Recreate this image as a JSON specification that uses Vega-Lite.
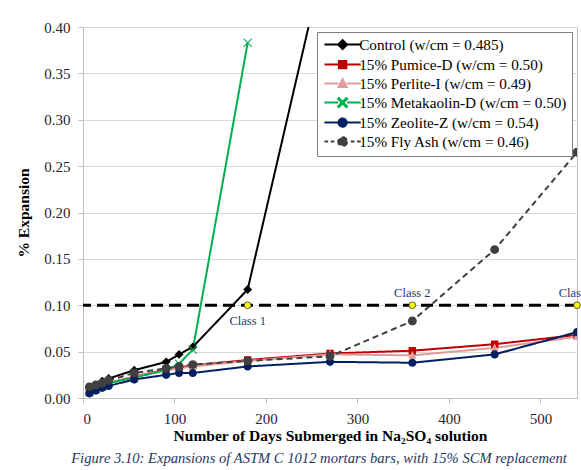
{
  "$schema": "https://vega.github.io/schema/vega-lite/v6.json",
  "width": 494,
  "height": 371,
  "autosize": "none",
  "padding": {"left": 83, "top": 27, "right": 4, "bottom": 72},
  "background": "white",
  "config": {
    "font": "Liberation Serif",
    "view": {"stroke": "#BFBFBF"},
    "axis": {
      "labelFont": "Liberation Serif", "labelFontSize": 15, "labelColor": "#262626",
      "titleFont": "Liberation Serif", "titleFontSize": 15.5, "titleFontWeight": "bold", "titleColor": "black",
      "domainColor": "#BFBFBF", "tickColor": "#BFBFBF", "tickSize": 5, "gridColor": "#D9D9D9"
    },
    "legend": {
      "orient": "top-right", "offset": 5, "fillColor": "white", "strokeColor": "#808080", "padding": 5,
      "labelFont": "Liberation Serif", "labelFontSize": 15.2, "labelColor": "black",
      "symbolSize": 55, "symbolOffset": 13, "labelOffset": 9, "rowPadding": 2, "labelLimit": 300,
      "symbolStrokeWidth": 2
    }
  },
  "title": {
    "text": "Figure 3.10: Expansions of ASTM C 1012 mortars bars, with 15% SCM replacement",
    "orient": "bottom", "anchor": "middle", "font": "Liberation Serif", "fontSize": 14.6,
    "fontStyle": "italic", "fontWeight": "normal", "color": "#1F3864", "offset": 7, "dx": -11
  },
  "datasets": {
    "series": [
      {"series": "Control (w/cm = 0.485)", "day": 7, "exp": 0.011},
      {"series": "Control (w/cm = 0.485)", "day": 14, "exp": 0.014},
      {"series": "Control (w/cm = 0.485)", "day": 21, "exp": 0.018},
      {"series": "Control (w/cm = 0.485)", "day": 28, "exp": 0.021},
      {"series": "Control (w/cm = 0.485)", "day": 56, "exp": 0.030},
      {"series": "Control (w/cm = 0.485)", "day": 91, "exp": 0.039},
      {"series": "Control (w/cm = 0.485)", "day": 105, "exp": 0.047},
      {"series": "Control (w/cm = 0.485)", "day": 120, "exp": 0.055},
      {"series": "Control (w/cm = 0.485)", "day": 180, "exp": 0.117},
      {"series": "Control (w/cm = 0.485)", "day": 270, "exp": 0.50},
      {"series": "15% Pumice-D (w/cm = 0.50)", "day": 7, "exp": 0.006},
      {"series": "15% Pumice-D (w/cm = 0.50)", "day": 14, "exp": 0.009},
      {"series": "15% Pumice-D (w/cm = 0.50)", "day": 21, "exp": 0.012},
      {"series": "15% Pumice-D (w/cm = 0.50)", "day": 28, "exp": 0.016},
      {"series": "15% Pumice-D (w/cm = 0.50)", "day": 56, "exp": 0.023},
      {"series": "15% Pumice-D (w/cm = 0.50)", "day": 91, "exp": 0.031},
      {"series": "15% Pumice-D (w/cm = 0.50)", "day": 105, "exp": 0.033},
      {"series": "15% Pumice-D (w/cm = 0.50)", "day": 120, "exp": 0.035},
      {"series": "15% Pumice-D (w/cm = 0.50)", "day": 180, "exp": 0.041},
      {"series": "15% Pumice-D (w/cm = 0.50)", "day": 270, "exp": 0.048},
      {"series": "15% Pumice-D (w/cm = 0.50)", "day": 360, "exp": 0.051},
      {"series": "15% Pumice-D (w/cm = 0.50)", "day": 450, "exp": 0.058},
      {"series": "15% Pumice-D (w/cm = 0.50)", "day": 540, "exp": 0.068},
      {"series": "15% Perlite-I (w/cm = 0.49)", "day": 7, "exp": 0.007},
      {"series": "15% Perlite-I (w/cm = 0.49)", "day": 14, "exp": 0.010},
      {"series": "15% Perlite-I (w/cm = 0.49)", "day": 21, "exp": 0.013},
      {"series": "15% Perlite-I (w/cm = 0.49)", "day": 28, "exp": 0.016},
      {"series": "15% Perlite-I (w/cm = 0.49)", "day": 56, "exp": 0.023},
      {"series": "15% Perlite-I (w/cm = 0.49)", "day": 91, "exp": 0.030},
      {"series": "15% Perlite-I (w/cm = 0.49)", "day": 105, "exp": 0.032},
      {"series": "15% Perlite-I (w/cm = 0.49)", "day": 120, "exp": 0.034},
      {"series": "15% Perlite-I (w/cm = 0.49)", "day": 180, "exp": 0.040},
      {"series": "15% Perlite-I (w/cm = 0.49)", "day": 270, "exp": 0.047},
      {"series": "15% Perlite-I (w/cm = 0.49)", "day": 360, "exp": 0.046},
      {"series": "15% Perlite-I (w/cm = 0.49)", "day": 450, "exp": 0.054},
      {"series": "15% Perlite-I (w/cm = 0.49)", "day": 540, "exp": 0.066},
      {"series": "15% Metakaolin-D (w/cm = 0.50)", "day": 7, "exp": 0.007},
      {"series": "15% Metakaolin-D (w/cm = 0.50)", "day": 14, "exp": 0.010},
      {"series": "15% Metakaolin-D (w/cm = 0.50)", "day": 21, "exp": 0.013},
      {"series": "15% Metakaolin-D (w/cm = 0.50)", "day": 28, "exp": 0.016},
      {"series": "15% Metakaolin-D (w/cm = 0.50)", "day": 56, "exp": 0.022},
      {"series": "15% Metakaolin-D (w/cm = 0.50)", "day": 91, "exp": 0.030},
      {"series": "15% Metakaolin-D (w/cm = 0.50)", "day": 105, "exp": 0.037},
      {"series": "15% Metakaolin-D (w/cm = 0.50)", "day": 120, "exp": 0.052},
      {"series": "15% Metakaolin-D (w/cm = 0.50)", "day": 180, "exp": 0.383},
      {"series": "15% Zeolite-Z (w/cm = 0.54)", "day": 7, "exp": 0.005},
      {"series": "15% Zeolite-Z (w/cm = 0.54)", "day": 14, "exp": 0.008},
      {"series": "15% Zeolite-Z (w/cm = 0.54)", "day": 21, "exp": 0.011},
      {"series": "15% Zeolite-Z (w/cm = 0.54)", "day": 28, "exp": 0.013},
      {"series": "15% Zeolite-Z (w/cm = 0.54)", "day": 56, "exp": 0.020},
      {"series": "15% Zeolite-Z (w/cm = 0.54)", "day": 91, "exp": 0.025},
      {"series": "15% Zeolite-Z (w/cm = 0.54)", "day": 105, "exp": 0.027},
      {"series": "15% Zeolite-Z (w/cm = 0.54)", "day": 120, "exp": 0.027},
      {"series": "15% Zeolite-Z (w/cm = 0.54)", "day": 180, "exp": 0.034},
      {"series": "15% Zeolite-Z (w/cm = 0.54)", "day": 270, "exp": 0.039},
      {"series": "15% Zeolite-Z (w/cm = 0.54)", "day": 360, "exp": 0.038},
      {"series": "15% Zeolite-Z (w/cm = 0.54)", "day": 450, "exp": 0.047},
      {"series": "15% Zeolite-Z (w/cm = 0.54)", "day": 540, "exp": 0.071},
      {"series": "15% Fly Ash (w/cm = 0.46)", "day": 7, "exp": 0.012},
      {"series": "15% Fly Ash (w/cm = 0.46)", "day": 14, "exp": 0.014},
      {"series": "15% Fly Ash (w/cm = 0.46)", "day": 21, "exp": 0.016},
      {"series": "15% Fly Ash (w/cm = 0.46)", "day": 28, "exp": 0.019},
      {"series": "15% Fly Ash (w/cm = 0.46)", "day": 56, "exp": 0.027},
      {"series": "15% Fly Ash (w/cm = 0.46)", "day": 91, "exp": 0.032},
      {"series": "15% Fly Ash (w/cm = 0.46)", "day": 105, "exp": 0.034},
      {"series": "15% Fly Ash (w/cm = 0.46)", "day": 120, "exp": 0.036},
      {"series": "15% Fly Ash (w/cm = 0.46)", "day": 180, "exp": 0.040},
      {"series": "15% Fly Ash (w/cm = 0.46)", "day": 270, "exp": 0.045},
      {"series": "15% Fly Ash (w/cm = 0.46)", "day": 360, "exp": 0.083},
      {"series": "15% Fly Ash (w/cm = 0.46)", "day": 450, "exp": 0.160},
      {"series": "15% Fly Ash (w/cm = 0.46)", "day": 540, "exp": 0.265}
    ],
    "limit": [{"exp": 0.1}],
    "classes": [
      {"day": 180, "exp": 0.1, "label": "Class 1"},
      {"day": 360, "exp": 0.1, "label": "Class 2"},
      {"day": 540, "exp": 0.1, "label": "Class 3"}
    ]
  },
  "layer": [
    {
      "data": {"name": "series"},
      "mark": {"type": "line", "strokeWidth": 2, "clip": true},
      "encoding": {
        "x": {"field": "day", "type": "quantitative", "scale": {"domain": [0, 540], "nice": false},
              "axis": {"values": [0, 100, 200, 300, 400, 500], "grid": false, "labelPadding": 8, "title": "Number of Days Submerged in Na₂SO₄ solution", "titlePadding": 2}},
        "y": {"field": "exp", "type": "quantitative", "scale": {"domain": [0, 0.4], "nice": false},
              "axis": {"values": [0, 0.05, 0.1, 0.15, 0.2, 0.25, 0.3, 0.35, 0.4], "format": ".2f", "grid": true, "labelPadding": 8, "title": "% Expansion", "titlePadding": 12}},
        "color": {"field": "series", "type": "nominal",
                  "scale": {"domain": ["Control (w/cm = 0.485)", "15% Pumice-D (w/cm = 0.50)", "15% Perlite-I (w/cm = 0.49)", "15% Metakaolin-D (w/cm = 0.50)", "15% Zeolite-Z (w/cm = 0.54)", "15% Fly Ash (w/cm = 0.46)"],
                            "range": ["#000000", "#C00000", "#E09C9C", "#00B050", "#002060", "#404040"]}},
        "strokeDash": {"field": "series", "type": "nominal", "legend": null,
                       "scale": {"domain": ["Control (w/cm = 0.485)", "15% Pumice-D (w/cm = 0.50)", "15% Perlite-I (w/cm = 0.49)", "15% Metakaolin-D (w/cm = 0.50)", "15% Zeolite-Z (w/cm = 0.54)", "15% Fly Ash (w/cm = 0.46)"],
                                 "range": [[1, 0], [1, 0], [1, 0], [1, 0], [1, 0], [6, 4]]}}
      }
    },
    {
      "data": {"name": "series"},
      "mark": {"type": "point", "filled": true, "size": 55, "strokeWidth": 0, "opacity": 1, "clip": true},
      "encoding": {
        "x": {"field": "day", "type": "quantitative"},
        "y": {"field": "exp", "type": "quantitative"},
        "color": {"field": "series", "type": "nominal",
                  "legend": {"title": null, "encode": {"symbols": {"update": {"stroke": {"scale": "color", "field": "value"}, "strokeWidth": {"value": 2}, "strokeDash": {"value": [1, 0]}}}}}},
        "shape": {"field": "series", "type": "nominal",
                  "legend": {"title": null},
                  "scale": {"domain": ["Control (w/cm = 0.485)", "15% Pumice-D (w/cm = 0.50)", "15% Perlite-I (w/cm = 0.49)", "15% Metakaolin-D (w/cm = 0.50)", "15% Zeolite-Z (w/cm = 0.54)", "15% Fly Ash (w/cm = 0.46)"],
                            "range": [
                              "M-4.9,0H-1.2M1.2,0H4.9M0,-1.2L1.2,0L0,1.2L-1.2,0Z",
                              "M-4.9,0H-1.1M1.1,0H4.9M-1,-1H1V1H-1Z",
                              "M-4.9,0H-1.1M1.1,0H4.9M0,-1.2L1.1,0.9H-1.1Z",
                              "M-4.9,0H-1.2M1.2,0H4.9M-1.2,-1L-1,-1.2L0,-0.2L1,-1.2L1.2,-1L0.2,0L1.2,1L1,1.2L0,0.2L-1,1.2L-1.2,1L-0.2,0Z",
                              "M-4.9,0H-1.1M1.1,0H4.9M1.1,0A1.1,1.1,0,1,1,-1.1,0A1.1,1.1,0,1,1,1.1,0Z",
                              "M-4.9,0H-3.9M-3.2,0H-2.2M2.2,0H3.2M3.9,0H4.9M1.2,0A1.2,1.2,0,1,1,-1.2,0A1.2,1.2,0,1,1,1.2,0Z"
                            ]}}
      }
    },
    {
      "data": {"name": "limit"},
      "mark": {"type": "rule", "color": "black", "strokeWidth": 3, "strokeDash": [12, 6]},
      "encoding": {"y": {"field": "exp", "type": "quantitative"}}
    },
    {
      "data": {"name": "classes"},
      "mark": {"type": "point", "filled": true, "fill": "#FFFF00", "stroke": "#333333", "strokeWidth": 0.8, "size": 45, "shape": "circle", "opacity": 1},
      "encoding": {
        "x": {"field": "day", "type": "quantitative"},
        "y": {"field": "exp", "type": "quantitative"}
      }
    },
    {
      "data": {"name": "classes"},
      "transform": [{"filter": "datum.label == 'Class 1'"}],
      "mark": {"type": "text", "font": "Liberation Serif", "fontSize": 12.5, "color": "#1F3864", "dy": 16},
      "encoding": {
        "x": {"field": "day", "type": "quantitative"},
        "y": {"field": "exp", "type": "quantitative"},
        "text": {"field": "label"}
      }
    },
    {
      "data": {"name": "classes"},
      "transform": [{"filter": "datum.label != 'Class 1'"}],
      "mark": {"type": "text", "font": "Liberation Serif", "fontSize": 12.5, "color": "#1F3864", "dy": -12},
      "encoding": {
        "x": {"field": "day", "type": "quantitative"},
        "y": {"field": "exp", "type": "quantitative"},
        "text": {"field": "label"}
      }
    }
  ]
}
